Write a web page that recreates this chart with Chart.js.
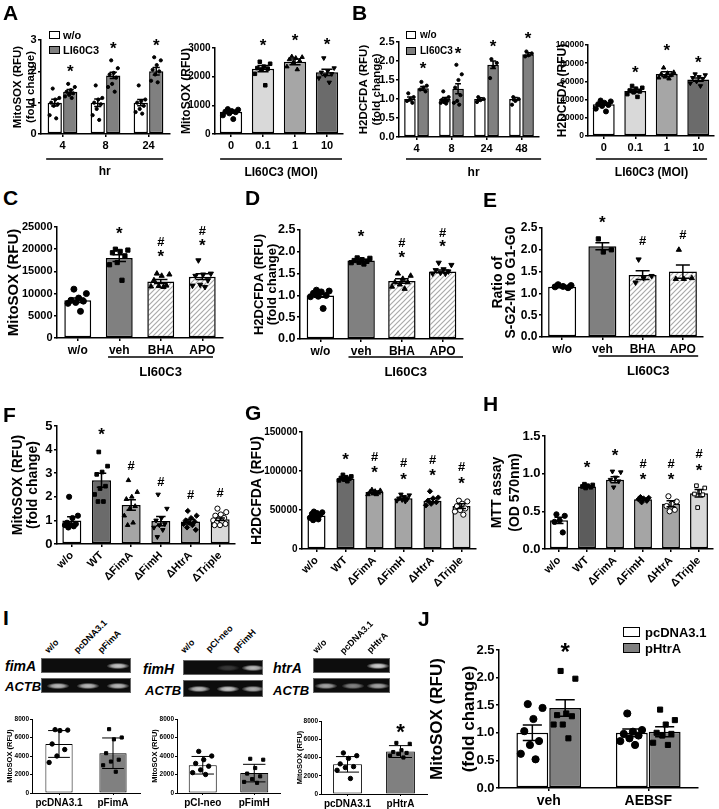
<!DOCTYPE html>
<html>
<head>
<meta charset="utf-8">
<script src="https://cdn.jsdelivr.net/npm/chart.js@4.4.1/dist/chart.umd.min.js"></script>
<style>
  body { margin: 0; width: 719px; height: 809px; position: relative; overflow: hidden; background: #fff;
         font-family: "Liberation Sans", Arial, Helvetica, sans-serif; color: #000; }
  canvas { position: absolute; }
  .t { position: absolute; font-weight: bold; line-height: 1; white-space: nowrap; }
  .box { position: absolute; border: 1.5px solid #000; box-sizing: border-box; }
  .gel { position: absolute; background: #0d0d0d; border: 1px solid #666; box-sizing: border-box; }
  .band { position: absolute; width: 22px; height: 6px;
          background: radial-gradient(ellipse at center, #eee 0%, #bdbdbd 40%, rgba(110,110,110,0) 75%); }
</style>
</head>
<body>
<script>
// ---- A: MitoSOX, time course (fold change) ----
const aTimeLabels = ['4', '8', '24'];
const aTimeWo = [1.0, 1.0, 1.0];
const aTimeWoSem = [0.11, 0.12, 0.1];
const aTimeLi = [1.35, 1.87, 2.0];
const aTimeLiSem = [0.07, 0.1, 0.12];
const aTimeWoPts = [[1.45, 1.15, 1.1, 1.0, 0.95, 0.9, 0.6, 0.5],
                    [1.55, 1.15, 1.1, 1.0, 0.95, 0.8, 0.6, 0.45],
                    [1.55, 1.1, 1.05, 1.0, 0.9, 0.8, 0.7, 0.65]];
const aTimeLiPts = [[1.6, 1.5, 1.4, 1.35, 1.3, 1.25, 1.2, 1.15],
                    [2.35, 2.1, 1.95, 1.9, 1.8, 1.6, 1.5, 1.35],
                    [2.45, 2.35, 2.2, 2.05, 2.0, 1.9, 1.7, 1.65]];
const aTimeStarY = [2.1, 2.84, 2.92];

// ---- A: MitoSOX vs MOI ----
const moiLabels = ['0', '0.1', '1', '10'];
const aMoi = [780, 2280, 2520, 2150];
const aMoiSem = [50, 110, 100, 110];
const aMoiPts = [[870, 850, 800, 780, 760, 720, 650, 520],
                 [2520, 2450, 2350, 2300, 2280, 2250, 2100, 1700],
                 [2700, 2680, 2650, 2600, 2550, 2500, 2350, 2250],
                 [2650, 2300, 2200, 2150, 2100, 2050, 1950, 1800]];
const aMoiStarY = [null, 3220, 3390, 3250];

// ---- B: H2DCFDA, time course ----
const bTimeLabels = ['4', '8', '24', '48'];
const bTimeWo = [1.0, 1.0, 1.0, 1.0];
const bTimeWoSem = [0.05, 0.04, 0.03, 0.04];
const bTimeLi = [1.28, 1.27, 1.9, 2.18];
const bTimeLiSem = [0.05, 0.13, 0.1, 0.04];
const bTimeWoPts = [[1.15, 1.05, 1.0, 0.95, 0.9],
                    [1.2, 1.05, 1.0, 0.98, 0.95, 0.92, 0.9, 0.88],
                    [1.05, 1.0, 0.97, 0.92],
                    [1.05, 1.0, 0.95, 0.85]];
const bTimeLiPts = [[1.45, 1.35, 1.3, 1.25, 1.2],
                    [1.9, 1.65, 1.5, 1.3, 1.1, 0.95, 0.9, 0.85],
                    [2.05, 1.95, 1.85, 1.55],
                    [2.25, 2.2, 2.15, 2.12]];
const bTimeStarY = [1.88, 2.29, 2.48, 2.68];

// ---- B: H2DCFDA vs MOI ----
const bMoi = [35000, 49500, 68000, 62000];
const bMoiSem = [1300, 1800, 2500, 1800];
const bMoiPts = [[39000, 38000, 36500, 35000, 34000, 33000, 30000, 27000],
                 [55000, 53000, 52000, 50000, 49000, 48000, 46000, 43000],
                 [75000, 70000, 69000, 68000, 67000, 65000, 64000, 63000],
                 [68000, 67000, 65000, 64000, 63000, 60000, 58000, 55000]];
const bMoiStarY = [null, 73600, 98000, 84000];

// ---- C / D / E: antioxidants ----
const treatLabels = ['w/o', 'veh', 'BHA', 'APO'];
const cVals = [8500, 18000, 12700, 13800];
const cSem = [500, 750, 450, 650];
const cPts = [[11000, 10000, 9000, 8500, 8300, 8000, 7800, 6000],
              [20000, 19800, 19500, 19200, 18500, 17000, 16500, 13000],
              [14500, 14300, 14000, 13000, 11800, 11700, 11600, 11500],
              [17500, 14500, 14300, 14000, 13000, 12000, 11800, 11500]];
const cStarY = [null, 24300, 19150, 21600];
const cHashY = [null, null, 21600, 24000];

const dVals = [1.0, 1.8, 1.33, 1.55];
const dSem = [0.04, 0.03, 0.05, 0.03];
const dPts = [[1.12, 1.1, 1.08, 1.05, 1.0, 0.98, 0.97, 0.7],
              [1.86, 1.85, 1.82, 1.8, 1.78, 1.76, 1.75, 1.72],
              [1.5, 1.45, 1.38, 1.3, 1.3, 1.25, 1.2, 1.15],
              [1.75, 1.7, 1.6, 1.58, 1.55, 1.52, 1.5, 1.5]];
const dStarY = [null, 2.43, 1.94, 2.19];
const dHashY = [null, null, 2.19, 2.43];

const eVals = [1.15, 2.08, 1.42, 1.5];
const eSem = [0.02, 0.08, 0.1, 0.15];
const ePts = [[1.2, 1.18, 1.16, 1.15, 1.13],
              [2.25, 2.0, 1.95],
              [1.78, 1.4, 1.35, 1.25],
              [2.0, 1.35, 1.33, 1.33]];
const eStarY = [null, 2.7, null, null];
const eHashY = [null, null, 2.19, 2.32];

// ---- F / G / H: mutant strains ----
const strainLabels = ['w/o', 'WT', '\u0394FimA', '\u0394FimH', '\u0394HtrA', '\u0394Triple'];
const fVals = [1.0, 2.7, 1.65, 0.97, 0.95, 1.05];
const fSem = [0.15, 0.3, 0.22, 0.2, 0.1, 0.05];
const fPts = [[2.0, 1.2, 1.1, 0.9, 0.85, 0.8, 0.8, 0.75, 0.7],
              [3.9, 3.3, 3.05, 2.95, 2.45, 2.35, 2.1, 1.8, 1.8],
              [2.7, 2.2, 2.0, 1.9, 1.6, 1.5, 1.2, 0.9, 0.8],
              [2.1, 1.5, 1.1, 1.0, 0.85, 0.8, 0.7, 0.6, 0.3],
              [1.4, 1.2, 1.1, 1.0, 0.95, 0.9, 0.85, 0.8, 0.7, 0.6],
              [1.5, 1.35, 1.25, 1.2, 1.1, 1.05, 1.0, 0.95, 0.9, 0.85, 0.8, 0.8]];
const fStarY = [null, 4.8, null, null, null, null];
const fHashY = [null, null, 3.3, 2.6, 2.05, 2.15];

const gVals = [43000, 90000, 73000, 65000, 62000, 55000];
const gSem = [1500, 1500, 1200, 1800, 2500, 3000];
const gPts = [[48000, 47000, 46000, 45000, 44000, 42000, 40000, 38000, 37000],
              [95000, 93000, 92000, 91000, 90000, 89000, 88000, 87000],
              [76000, 75000, 74000, 73000, 72000, 71000, 70000, 70000],
              [70000, 69000, 67000, 65000, 64000, 63000, 62000, 61000],
              [74000, 66000, 65000, 62000, 60000, 58000, 56000],
              [62000, 61000, 58000, 55000, 52000, 50000, 48000, 44000]];
const gStarY = [null, 119000, 102000, 94000, 99000, 88000];
const gHashY = [null, null, 117000, 110000, 114000, 104000];

const hVals = [0.38, 0.83, 0.92, 0.66, 0.6, 0.74];
const hSem = [0.04, 0.01, 0.04, 0.015, 0.04, 0.05];
const hPts = [[0.46, 0.44, 0.38, 0.36, 0.22],
              [0.86, 0.85, 0.84, 0.83, 0.82, 0.81],
              [1.03, 1.02, 0.95, 0.92, 0.9, 0.82],
              [0.69, 0.68, 0.67, 0.66, 0.64, 0.62],
              [0.7, 0.63, 0.6, 0.57, 0.52, 0.5],
              [0.84, 0.81, 0.76, 0.73, 0.72, 0.55]];
const hStarY = [null, 1.13, 1.29, 0.97, 0.97, 1.09];
const hHashY = [null, null, null, 1.12, 1.12, 1.25];

// ---- I: overexpression (mean, SD) ----
const iFimALabels = ['pcDNA3.1', 'pFimA'];
const iFimAVals = [5300, 4300];
const iFimASd = [1450, 1650];
const iFimAPts = [[6850, 6800, 6750, 5300, 4700, 4000, 3300],
                  [6900, 6000, 5800, 4300, 3600, 3400, 3000, 2300]];
const iFimHLabels = ['pCI-neo', 'pFimH'];
const iFimHVals = [3000, 2150];
const iFimHSd = [950, 950];
const iFimHPts = [[4500, 4000, 3600, 3200, 2900, 2500, 2200, 2000],
                  [3700, 3600, 2700, 2100, 1800, 1500, 1200, 1100]];
const iHtrALabels = ['pcDNA3.1', 'pHtrA'];
const iHtrAVals = [3250, 4650];
const iHtrASd = [850, 650];
const iHtrAPts = [[4500, 4200, 3900, 3300, 3000, 2900, 2600, 1700],
                  [5600, 5500, 4800, 4600, 4500, 4400, 4200, 4000]];
const iHtrAStarY = [null, 7340];

// ---- J: AEBSF ----
const jLabels = ['veh', 'AEBSF'];
const jPc = [1.0, 1.0];
const jPcSem = [0.14, 0.07];
const jHt = [1.45, 1.02];
const jHtSem = [0.15, 0.09];
const jPcPts = [[1.52, 1.45, 1.25, 1.03, 0.85, 0.78, 0.62, 0.52],
                [1.35, 1.05, 1.02, 0.98, 0.95, 0.9, 0.85, 0.78]];
const jHtPts = [[2.12, 1.98, 1.35, 1.32, 1.3, 1.15, 1.15, 0.9],
                [1.42, 1.23, 1.15, 1.0, 0.98, 0.95, 0.82, 0.78]];
const jStarY = [2.55, null];

// -------------------------------------------------------------------------
const FONT = '"Liberation Sans", Arial, Helvetica, sans-serif';
Chart.defaults.font.family = FONT;
Chart.defaults.font.weight = 'bold';
Chart.defaults.color = '#000';

const STY = {
  dot: ['circle', 0, '#000'], sq: ['rect', 0, '#000'], tri: ['triangle', 0, '#000'],
  inv: ['triangle', 180, '#000'], dia: ['rectRot', 0, '#000'],
  ocir: ['circle', 0, '#fff'], osq: ['rect', 0, '#fff']
};

function hatch() {
  const c = document.createElement('canvas');
  c.width = 5; c.height = 5;
  const g = c.getContext('2d');
  g.fillStyle = '#fff'; g.fillRect(0, 0, 5, 5);
  g.strokeStyle = '#aaa'; g.lineWidth = 1.2;
  g.beginPath();
  g.moveTo(0, 5); g.lineTo(5, 0);
  g.moveTo(-1, 1); g.lineTo(1, -1);
  g.moveTo(4, 6); g.lineTo(6, 4);
  g.stroke();
  return g.createPattern(c, 'repeat');
}
const HATCH = hatch();

// spreads the points of one bar across its width (golden-ratio order)
function spread(k, n) {
  if (n < 2) return 0;
  return ((k + 0.5) * 0.618034) % 1 - 0.5;
}

function pick(v, i) { return Array.isArray(v) ? v[i] : v; }

function extras(o) {
  return {
    id: 'extras',
    afterDatasetsDraw(chart) {
      const ctx = chart.ctx, y = chart.scales.y, x = chart.scales.x, area = chart.chartArea;
      ctx.save();
      ctx.strokeStyle = '#000';
      ctx.fillStyle = '#000';
      ctx.lineWidth = o.lw || 1.5;
      o.groups.forEach((g, j) => {
        const meta = chart.getDatasetMeta(j);
        g.err.forEach((e, i) => {
          const bar = meta.data[i];
          const cx = bar.x, cap = bar.width * (o.cap || 0.5) / 2;
          const y1 = y.getPixelForValue(g.values[i] + e);
          const y0 = y.getPixelForValue(g.values[i] - e);
          ctx.beginPath();
          ctx.moveTo(cx, y0); ctx.lineTo(cx, y1);
          ctx.moveTo(cx - cap, y1); ctx.lineTo(cx + cap, y1);
          ctx.moveTo(cx - cap, y0); ctx.lineTo(cx + cap, y0);
          ctx.stroke();
        });
      });
      ctx.textAlign = 'center';
      ctx.textBaseline = 'middle';
      const meta = chart.getDatasetMeta(o.markGroup || 0);
      const ss = o.starSize || 17, hs = o.hashSize || 13;
      (o.starY || []).forEach((v, i) => {
        if (v == null) return;
        ctx.font = `bold ${ss}px ${FONT}`;
        ctx.fillText('*', meta.data[i].x, y.getPixelForValue(v) + ss * 0.25);
      });
      (o.hashY || []).forEach((v, i) => {
        if (v == null) return;
        ctx.font = `bold ${hs}px ${FONT}`;
        ctx.fillText('#', meta.data[i].x, y.getPixelForValue(v));
      });
      if (o.bracket) {
        const b = o.bracket;
        const x1 = x.getPixelForValue(b.a), x2 = x.getPixelForValue(b.b);
        const yy = area.bottom + b.dy;
        ctx.lineWidth = 1.5;
        ctx.beginPath(); ctx.moveTo(x1, yy); ctx.lineTo(x2, yy); ctx.stroke();
        ctx.font = `bold ${b.size}px ${FONT}`;
        ctx.fillText(b.text, (x1 + x2) / 2, area.bottom + b.ty);
      }
      ctx.restore();
    }
  };
}

function panel(o) {
  const n = o.labels.length, m = o.groups.length;
  const padTop = o.padTop || 18, padRight = o.padRight || 8;
  const left = o.ax - o.yw, top = o.top - padTop;
  const w = o.right - left + padRight, h = o.bottom + o.xh - top;
  const cv = document.createElement('canvas');
  cv.width = w; cv.height = h;
  cv.style.left = left + 'px'; cv.style.top = top + 'px';
  cv.style.width = w + 'px'; cv.style.height = h + 'px';
  document.body.appendChild(cv);

  const lw = o.lw || 1.5;
  const datasets = [];
  o.groups.forEach((g) => {
    datasets.push({
      type: 'bar', order: 2,
      data: g.values.map((v, i) => ({ x: i, y: v })),
      backgroundColor: g.values.map((_, i) => pick(g.colors, i)),
      borderColor: '#000', borderWidth: lw, borderSkipped: false,
      categoryPercentage: o.cp, barPercentage: o.bp
    });
  });
  const barFrac = o.cp * o.bp / m;
  o.groups.forEach((g, j) => {
    const shift = (j + 0.5 - m / 2) * o.cp / m;
    g.pts.forEach((arr, i) => {
      const s = STY[pick(g.shapes, i)];
      datasets.push({
        type: 'scatter', order: 1,
        data: arr.map((v, k) => ({ x: i + shift + spread(k, arr.length) * barFrac * 0.75, y: v })),
        pointStyle: s[0], pointRotation: s[1], pointRadius: o.pr,
        pointBackgroundColor: s[2], pointBorderColor: '#000', pointBorderWidth: 1
      });
    });
  });

  const tickGrid = {
    display: true, drawOnChartArea: false, drawTicks: true, offset: false,
    tickLength: o.tl || 3, color: '#000', lineWidth: lw
  };
  new Chart(cv, {
    type: 'bar',
    data: { datasets: datasets },
    options: {
      responsive: false, animation: false, events: [],
      layout: { padding: { top: padTop, right: padRight, left: 0, bottom: 0 } },
      plugins: { legend: { display: false }, tooltip: { enabled: false } },
      scales: {
        x: {
          type: 'linear', offset: false, min: -0.5, max: n - 0.5,
          grid: tickGrid,
          border: { display: true, color: '#000', width: lw },
          ticks: { font: { size: o.xfs, weight: 'bold' }, color: '#000', padding: 2, autoSkip: false,
                   maxRotation: o.rot || 0, minRotation: o.rot || 0,
                   callback: (v) => (o.labels[v] !== undefined ? o.labels[v] : '') },
          afterBuildTicks: (s) => { s.ticks = o.labels.map((_, i) => ({ value: i })); },
          afterFit: (s) => { s.height = o.xh; }
        },
        y: {
          type: 'linear', min: 0, max: o.ymax,
          ticks: { stepSize: o.step, font: { size: o.yfs, weight: 'bold' }, color: '#000', padding: o.tp || 1.5,
                   callback: (v) => (o.dec != null ? Number(v).toFixed(o.dec) : String(v)) },
          grid: tickGrid,
          border: { display: true, color: '#000', width: lw },
          title: { display: true, text: o.title, color: '#000', padding: 0,
                   font: { size: o.tfs, weight: 'bold', lineHeight: o.tlh || 1.2 } },
          afterFit: (s) => { s.width = o.yw; }
        }
      }
    },
    plugins: [extras(o)]
  });
}

// ---- html helpers (letters, legends, gels) ----
function txt(s, x, y, size, extra) {
  const d = document.createElement('div');
  d.className = 't';
  d.textContent = s;
  d.style.cssText = `left:${x}px;top:${y}px;font-size:${size}px;${extra || ''}`;
  document.body.appendChild(d);
  return d;
}
function box(x, y, w, h, bg) {
  const d = document.createElement('div');
  d.className = 'box';
  d.style.cssText = `left:${x}px;top:${y}px;width:${w}px;height:${h}px;background:${bg}`;
  document.body.appendChild(d);
}
function gel(x, y, w, h, bands) {
  const g = document.createElement('div');
  g.className = 'gel';
  g.style.cssText = `left:${x}px;top:${y}px;width:${w}px;height:${h}px`;
  bands.forEach(([cx, a]) => {
    const b = document.createElement('div');
    b.className = 'band';
    b.style.left = (cx - 11) + 'px';
    b.style.top = (h / 2 - 4) + 'px';
    b.style.opacity = a;
    g.appendChild(b);
  });
  document.body.appendChild(g);
}
function lane(s, x, y) {
  txt(s, x, y - 9, 9, 'transform-origin:left bottom;transform:rotate(-45deg)');
}

// ---- panels ----
panel({ ax: 41, top: 40, bottom: 134, right: 170, yw: 30, xh: 46, labels: aTimeLabels,
  ymax: 3, step: 1, yfs: 11, xfs: 11, title: ['MitoSOX (RFU)', '(fold change)'], tfs: 11.5, tlh: 1.15,
  cp: 0.72, bp: 0.92, pr: 1.6, markGroup: 1, starY: aTimeStarY,
  groups: [{ values: aTimeWo, err: aTimeWoSem, pts: aTimeWoPts, colors: '#fff', shapes: 'dot' },
           { values: aTimeLi, err: aTimeLiSem, pts: aTimeLiPts, colors: '#808080', shapes: 'dot' }],
  bracket: { a: -0.38, b: 2.34, dy: 25, ty: 38, text: 'hr', size: 12 } });

panel({ ax: 215, top: 48, bottom: 134, right: 343, yw: 36, xh: 46, labels: moiLabels,
  ymax: 3000, step: 1000, yfs: 10, xfs: 11, title: 'MitoSOX (RFU)', tfs: 12,
  cp: 0.75, bp: 0.93, pr: 2.5, starY: aMoiStarY,
  groups: [{ values: aMoi, err: aMoiSem, pts: aMoiPts, colors: ['#fff', '#d9d9d9', '#a6a6a6', '#6b6b6b'],
             shapes: ['dot', 'sq', 'tri', 'inv'] }],
  bracket: { a: -0.34, b: 3.47, dy: 25, ty: 39, text: 'LI60C3 (MOI)', size: 12 } });

panel({ ax: 399, top: 42, bottom: 137, right: 539, yw: 42, xh: 44, labels: bTimeLabels,
  ymax: 2.5, step: 0.5, dec: 1, yfs: 11, xfs: 11, title: ['H2DCFDA (RFU)', '(fold change)'], tfs: 11.5, tlh: 1.15,
  cp: 0.75, bp: 0.88, pr: 1.6, markGroup: 1, starY: bTimeStarY,
  groups: [{ values: bTimeWo, err: bTimeWoSem, pts: bTimeWoPts, colors: '#fff', shapes: 'dot' },
           { values: bTimeLi, err: bTimeLiSem, pts: bTimeLiPts, colors: '#808080', shapes: 'dot' }],
  bracket: { a: -0.3, b: 3.56, dy: 22, ty: 36, text: 'hr', size: 12 } });

panel({ ax: 588, top: 45, bottom: 136, right: 716, yw: 33, xh: 44, padRight: 3, labels: moiLabels,
  ymax: 100000, step: 20000, yfs: 8.5, xfs: 11, title: 'H2DCFDA (RFU)', tfs: 12, tp: 1,
  cp: 0.8, bp: 0.87, pr: 2.5, starY: bMoiStarY,
  groups: [{ values: bMoi, err: bMoiSem, pts: bMoiPts, colors: ['#fff', '#d9d9d9', '#a6a6a6', '#6b6b6b'],
             shapes: ['dot', 'sq', 'tri', 'inv'] }],
  bracket: { a: -0.25, b: 3.28, dy: 23, ty: 37, text: 'LI60C3 (MOI)', size: 12 } });

panel({ ax: 57, top: 227, bottom: 338, right: 223, yw: 52, xh: 44, labels: treatLabels,
  ymax: 25000, step: 5000, yfs: 11, xfs: 12, title: 'MitoSOX (RFU)', tfs: 15,
  cp: 0.8, bp: 0.81, pr: 3, starY: cStarY, hashY: cHashY,
  groups: [{ values: cVals, err: cSem, pts: cPts, colors: ['#fff', '#808080', HATCH, HATCH],
             shapes: ['dot', 'sq', 'tri', 'inv'] }],
  bracket: { a: 0.73, b: 3.26, dy: 19, ty: 34, text: 'LI60C3', size: 13 } });

panel({ ax: 300, top: 230, bottom: 339, right: 463, yw: 47, xh: 42, labels: treatLabels,
  ymax: 2.5, step: 0.5, dec: 1, yfs: 12.5, xfs: 12, title: ['H2DCFDA (RFU)', '(fold change)'], tfs: 13, tlh: 1.0,
  cp: 0.8, bp: 0.84, pr: 3, starY: dStarY, hashY: dHashY,
  groups: [{ values: dVals, err: dSem, pts: dPts, colors: ['#fff', '#808080', HATCH, HATCH],
             shapes: ['dot', 'sq', 'tri', 'inv'] }],
  bracket: { a: 0.69, b: 3.5, dy: 18, ty: 33, text: 'LI60C3', size: 13 } });

panel({ ax: 542, top: 228, bottom: 337, right: 703, yw: 51, xh: 44, labels: treatLabels,
  ymax: 2.5, step: 0.5, dec: 1, yfs: 12, xfs: 12, title: ['Ratio of', 'S-G2-M to G1-G0'], tfs: 14, tlh: 0.95,
  cp: 0.8, bp: 0.87, pr: 3, starY: eStarY, hashY: eHashY,
  groups: [{ values: eVals, err: eSem, pts: ePts, colors: ['#fff', '#808080', HATCH, HATCH],
             shapes: ['dot', 'sq', 'inv', 'tri'] }],
  bracket: { a: 0.9, b: 3.38, dy: 19, ty: 34, text: 'LI60C3', size: 13 } });

const strainColors = ['#fff', '#6b6b6b', '#a5a5a5', '#a5a5a5', '#a5a5a5', '#d9d9d9'];
panel({ ax: 57, top: 426, bottom: 544, right: 235, yw: 46, xh: 54, labels: strainLabels, rot: 45,
  ymax: 5, step: 1, yfs: 13, xfs: 11, title: ['MitoSOX (RFU)', '(fold change)'], tfs: 14, tlh: 1.07,
  cp: 0.8, bp: 0.8, pr: 2.6, starY: fStarY, hashY: fHashY,
  groups: [{ values: fVals, err: fSem, pts: fPts, colors: strainColors,
             shapes: ['dot', 'sq', 'tri', 'inv', 'dia', 'ocir'] }] });

panel({ ax: 302, top: 432, bottom: 549, right: 476, yw: 53, xh: 52, labels: strainLabels, rot: 45,
  ymax: 150000, step: 50000, yfs: 10, xfs: 11, title: 'H2DCFDA (RFU)', tfs: 14,
  cp: 0.8, bp: 0.78, pr: 2.6, starY: gStarY, hashY: gHashY,
  groups: [{ values: gVals, err: gSem, pts: gPts, colors: strainColors,
             shapes: ['dot', 'sq', 'tri', 'inv', 'dia', 'ocir'] }] });

panel({ ax: 545, top: 436, bottom: 549, right: 713, yw: 57, xh: 52, padRight: 5, labels: strainLabels, rot: 45,
  ymax: 1.5, step: 0.5, dec: 1, yfs: 13, xfs: 11, title: ['MTT assay', '(OD 570nm)'], tfs: 14, tlh: 1.3,
  cp: 0.8, bp: 0.8, pr: 2.6, starY: hStarY, hashY: hHashY,
  groups: [{ values: hVals, err: hSem, pts: hPts, colors: ['#fff', '#5c5c5c', '#a5a5a5', '#a5a5a5', '#a5a5a5', '#d9d9d9'],
             shapes: ['dot', 'sq', 'inv', 'dia', 'ocir', 'osq'] }] });

const iBase = { top: 719, bottom: 793, yw: 27, xh: 16, padTop: 14, ymax: 8000, step: 2000, yfs: 6.5, xfs: 10,
  title: 'MitoSOX (RFU)', tfs: 7.5, cp: 0.8, bp: 0.68, pr: 2.2, lw: 1, tl: 2, tp: 1, cap: 0.8 };
panel(Object.assign({}, iBase, { ax: 32, right: 140, labels: iFimALabels, bp: 0.63,
  groups: [{ values: iFimAVals, err: iFimASd, pts: iFimAPts, colors: ['#fff', '#808080'], shapes: ['dot', 'sq'] }] }));
panel(Object.assign({}, iBase, { ax: 177, right: 280, labels: iFimHLabels,
  groups: [{ values: iFimHVals, err: iFimHSd, pts: iFimHPts, colors: ['#fff', '#808080'], shapes: ['dot', 'sq'] }] }));
panel(Object.assign({}, iBase, { ax: 321, top: 721, bottom: 794, right: 427, yw: 26, labels: iHtrALabels,
  starY: iHtrAStarY, starSize: 22,
  groups: [{ values: iHtrAVals, err: iHtrASd, pts: iHtrAPts, colors: ['#fff', '#808080'], shapes: ['dot', 'sq'] }] }));

panel({ ax: 499, top: 650, bottom: 788, right: 698, yw: 77, xh: 20, padTop: 14, labels: jLabels,
  ymax: 2.5, step: 0.5, dec: 1, yfs: 13, xfs: 14, title: ['MitoSOX (RFU)', '(fold change)'], tfs: 17, tlh: 1.85,
  cp: 0.66, bp: 0.97, pr: 3.6, markGroup: 1, starY: jStarY, starSize: 24, cap: 0.6,
  groups: [{ values: jPc, err: jPcSem, pts: jPcPts, colors: '#fff', shapes: 'dot' },
           { values: jHt, err: jHtSem, pts: jHtPts, colors: '#808080', shapes: 'sq' }] });

// ---- legends ----
box(49, 31, 11, 8, '#fff'); txt('w/o', 63, 30, 11);
box(49, 46, 11, 8, '#808080'); txt('LI60C3', 63, 45, 11);
box(406, 31, 10, 8, '#fff'); txt('w/o', 420, 30, 10);
box(406, 47, 10, 8, '#808080'); txt('LI60C3', 420, 46, 10);
box(623, 627, 17, 10, '#fff'); txt('pcDNA3.1', 645, 626, 13);
box(623, 643, 17, 10, '#808080'); txt('pHtrA', 645, 642, 13);

// ---- gels (panel I) ----
gel(41, 658, 90, 15, [[76, 0.85]]);
gel(41, 678, 90, 15, [[16, 0.8], [46, 0.8], [76, 0.8]]);
gel(183, 660, 80, 15, [[44, 0.2], [69, 0.8]]);
gel(183, 680, 80, 17, [[15, 0.8], [44, 0.85], [69, 0.75]]);
gel(313, 658, 77, 15, [[64, 0.9]]);
gel(313, 678, 77, 15, [[12, 0.7], [39, 0.55], [64, 0.7]]);
txt('fimA', 5, 659, 14, 'font-style:italic');
txt('ACTB', 5, 680, 13, 'font-style:italic');
txt('fimH', 143, 662, 14, 'font-style:italic');
txt('ACTB', 145, 684, 13, 'font-style:italic');
txt('htrA', 273, 661, 14, 'font-style:italic');
txt('ACTB', 273, 684, 13, 'font-style:italic');
lane('w/o', 50, 655); lane('pcDNA3.1', 79, 655); lane('pFimA', 103, 655);
lane('w/o', 186, 655); lane('pCI-neo', 211, 654); lane('pFimH', 238, 654);
lane('w/o', 318, 655); lane('pcDNA3.1', 345, 656); lane('pHtrA', 372, 655);

// ---- panel letters ----
[['A', 3, 2], ['B', 352, 2], ['C', 3, 187], ['D', 245, 187], ['E', 483, 189],
 ['F', 3, 404], ['G', 245, 402], ['H', 483, 393], ['I', 3, 607], ['J', 418, 608]]
  .forEach(([s, x, y]) => txt(s, x, y, 21));
</script>
</body>
</html>
